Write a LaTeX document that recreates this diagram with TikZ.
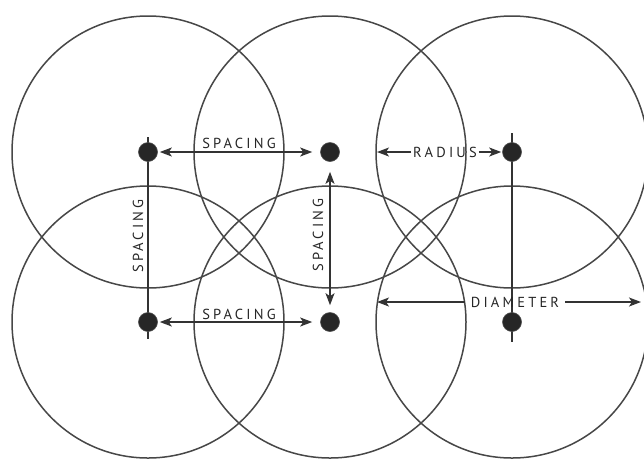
\documentclass[tikz,border=0pt]{standalone}
\usepackage{fontspec}
\setmainfont{PT Sans}[LetterSpace=22]
\usetikzlibrary{arrows.meta}
\begin{document}
\begin{tikzpicture}[x=1pt,y=-1pt,
  ring/.style={draw=black!72, line width=1.5pt},
  dotnode/.style={circle, fill=black!85, draw=black!70, line width=0.6pt, inner sep=0pt, minimum size=19pt},
  lbl/.style={text=black!85, font=\fontsize{14.5}{16}\selectfont, inner sep=0pt},
  gaplbl/.style={lbl, inner xsep=6pt},
  plain/.style={draw=black!80, line width=1.4pt},
  tip/.tip={Stealth[length=12pt,width=9pt,inset=3pt]},
  arr/.style={draw=black!80, line width=1.4pt, -tip},
  darr/.style={draw=black!80, line width=1.4pt, tip-tip}]
\useasboundingbox (0,0) rectangle (644,459);
\fill[white] (0,0) rectangle (644,459);
% circles
\foreach \cx/\cy in {148/152,330/152,512/152,148/322,330/322,512/322}
  \draw[ring] (\cx,\cy) circle[radius=136];
% through-lines of the outer columns
\coordinate (ltop) at (148,137);
\coordinate (lbot) at (148,339);
\coordinate (rtop) at (512,133);
\coordinate (rbot) at (512,342);
\draw[plain] (ltop) -- (lbot);
\draw[plain] (rtop) -- (rbot);
% dots
\node[dotnode] (d1) at (148,152) {};
\node[dotnode] (d2) at (330,152) {};
\node[dotnode] (d3) at (512,152) {};
\node[dotnode] (d4) at (148,322) {};
\node[dotnode] (d5) at (330,322) {};
\node[dotnode] (d6) at (512,322) {};
% spacing arrows
\draw[darr, shorten <=2pt, shorten >=8pt] (d1) -- (d2);
\draw[darr, shorten <=2pt, shorten >=8pt] (d4) -- (d5);
\draw[darr, shorten <=10pt, shorten >=7pt] (d2) -- (d5);
\node[lbl] (s1) at (239,143) {SPACING};
\node[lbl] (s2) at (239,314) {SPACING};
\node[lbl, rotate=90] (s3) at (138,236) {SPACING};
\node[lbl, rotate=90] (s4) at (318,235) {SPACING};
% radius
\coordinate (radL) at (377,152);
\node[gaplbl, inner xsep=2pt] (rad) at (445,152) {RADIUS};
\draw[arr] (rad.west) -- (radL);
\draw[arr, shorten >=1pt] (rad.east) -- (d3);
% diameter
\coordinate (diaL) at (377,302);
\coordinate (diaR) at (641,302);
\node[gaplbl] (dia) at (515,302) {DIAMETER};
\draw[arr] (dia.west) -- (diaL);
\draw[arr] (dia.east) -- (diaR);
\end{tikzpicture}
\end{document}
